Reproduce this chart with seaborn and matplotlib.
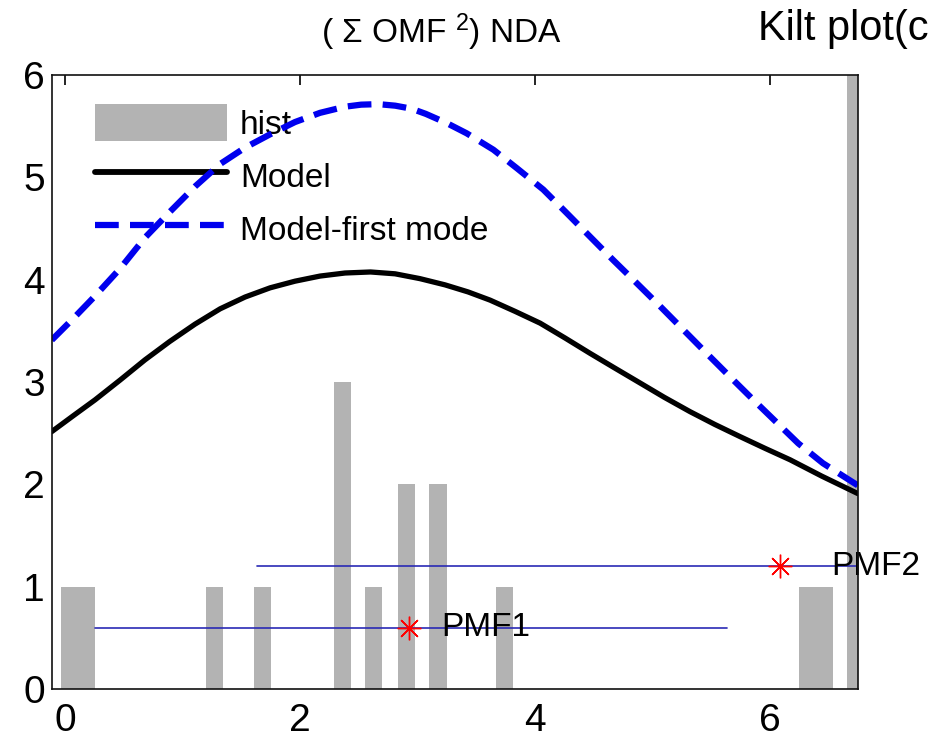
import numpy as np
import matplotlib
matplotlib.use('Agg')
import matplotlib.pyplot as plt
from matplotlib.patches import Patch
from matplotlib.lines import Line2D
import seaborn as sns

sns.set_style('white')
plt.rcParams['font.family'] = ['Liberation Sans', 'DejaVu Sans']
plt.rcParams['text.color'] = 'black'
plt.rcParams['mathtext.fontset'] = 'custom'
plt.rcParams['mathtext.rm'] = 'Liberation Sans'
plt.rcParams['mathtext.default'] = 'rm'

# histogram bins (centres) and counts
bin_centers = [0.04, 0.18, 1.27, 1.677, 2.358, 2.628, 2.902, 3.174, 3.738, 6.32, 6.46, 6.73]
bin_counts = [1, 1, 1, 1, 3, 1, 2, 2, 1, 1, 1, 9]

# model curves
model_x = [-0.113, 0.07, 0.255, 0.47, 0.68, 0.89, 1.106, 1.32, 1.532, 1.745, 1.957, 2.17,
           2.383, 2.6, 2.809, 3.02, 3.234, 3.43, 3.617, 3.83, 4.043, 4.255, 4.468, 4.68,
           4.894, 5.1, 5.319, 5.53, 5.745, 5.96, 6.17, 6.44, 6.746]
model_y = [2.515, 2.67, 2.825, 3.02, 3.216, 3.395, 3.565, 3.715, 3.83, 3.92, 3.985, 4.035,
           4.065, 4.075, 4.057, 4.01, 3.949, 3.88, 3.80, 3.69, 3.575, 3.43, 3.28, 3.135,
           2.99, 2.85, 2.71, 2.585, 2.466, 2.35, 2.24, 2.08, 1.91]
first_mode_x = [-0.113, 0.07, 0.255, 0.47, 0.68, 0.89, 1.106, 1.32, 1.532, 1.745, 1.957,
                2.17, 2.383, 2.52, 2.666, 2.81, 2.95, 3.07, 3.248, 3.418, 3.645, 3.844,
                4.07, 4.27, 4.468, 4.666, 4.865, 5.064, 5.262, 5.46, 5.66, 5.858, 6.06,
                6.24, 6.45, 6.746]
first_mode_y = [3.41, 3.62, 3.84, 4.11, 4.41, 4.66, 4.91, 5.13, 5.29, 5.42, 5.54,
                5.63, 5.69, 5.71, 5.715, 5.70, 5.67, 5.62, 5.53, 5.43, 5.27, 5.09,
                4.88, 4.65, 4.42, 4.19, 3.966, 3.74, 3.51, 3.28, 3.05, 2.825, 2.60,
                2.40, 2.206, 1.99]

# PMF estimates with ranges
pmf_names = ['PMF1', 'PMF2']
pmf_center = [2.93, 6.085]
pmf_low = [0.255, 1.63]
pmf_high = [5.63, 6.9]
pmf_y = [0.6, 1.2]
pmf_label_x = [3.2, 6.52]

BAR_W = 0.145
GRAY = '#b3b3b3'
DASH = (0, (3.8, 1.8))

fig = plt.figure(figsize=(9.29, 7.49), dpi=100)
ax = fig.add_axes([0.0557, 0.0801, 0.8676, 0.8198])

ax.bar(bin_centers, bin_counts, width=BAR_W, color=GRAY, linewidth=0, zorder=1)

sns.lineplot(x=model_x, y=model_y, ax=ax, color='black', linewidth=3.8, zorder=3)
sns.lineplot(x=first_mode_x, y=first_mode_y, ax=ax, color='#0000ee', linewidth=4.5,
             linestyle=DASH, zorder=3)

for name, c, lo, hi, y, lx in zip(pmf_names, pmf_center, pmf_low, pmf_high, pmf_y, pmf_label_x):
    ax.plot([lo, hi], [y, y], color='#2a2ab5', linewidth=1.2, zorder=2)
    ax.plot([c], [y], marker=(8, 2, 0), color='red', markersize=17, mew=1.0, zorder=4)
    ax.text(lx, y, name, fontsize=24, va='center', ha='left', clip_on=False, zorder=5)

ax.set_xlim(-0.113, 6.746)
ax.set_ylim(0, 6)
ax.set_xticks([0, 2, 4, 6])
ax.set_yticks([0, 1, 2, 3, 4, 5, 6])
ax.tick_params(direction='in', top=True, right=False, length=7, width=1.2,
               labelsize=28, colors='black')
ax.tick_params(axis='x', pad=10)
ax.tick_params(axis='y', pad=5)
for s in ax.spines.values():
    s.set_color('#111111')
    s.set_linewidth(1.2)
    s.set_zorder(6)

handles = [Patch(facecolor=GRAY, edgecolor='none'),
           Line2D([], [], color='black', linewidth=4.2),
           Line2D([], [], color='#0000ee', linewidth=4.5, linestyle=DASH)]
leg = ax.legend(handles, ['hist', 'Model', 'Model-first mode'], loc='upper left',
                bbox_to_anchor=(0.0537, 0.952), frameon=False, fontsize=24,
                handlelength=3.95, handleheight=1.3, handletextpad=0.4,
                labelspacing=0.5, borderpad=0, borderaxespad=0)
leg.set_zorder(2.5)
for t in leg.get_texts():
    t.set_color('black')

fig.text(0.4753, 0.9426, r'( Σ OMF $^{2}$) NDA', ha='center', va='baseline', fontsize=24)
fig.text(0.816, 0.9466, 'Kilt plot(c', ha='left', va='baseline', fontsize=30)

fig.savefig('out.png', dpi=100)
